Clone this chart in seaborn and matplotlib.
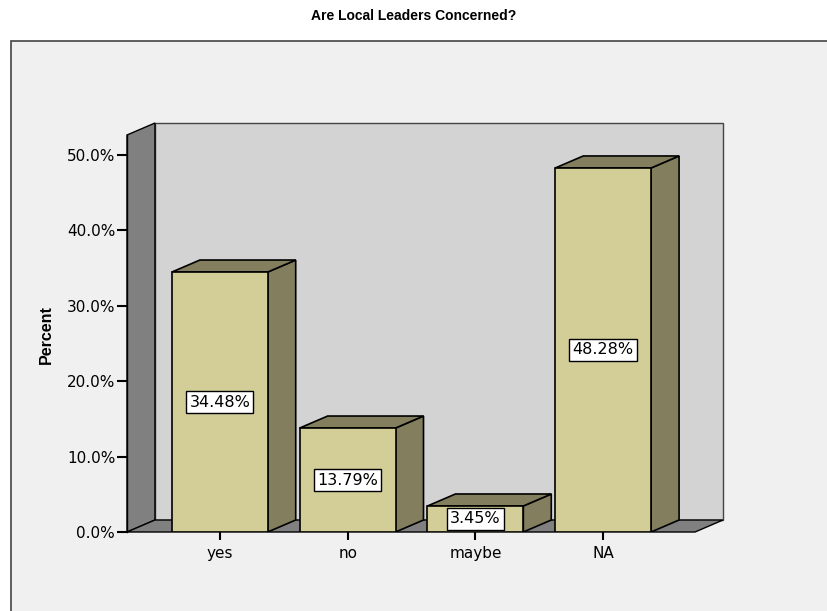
import matplotlib
matplotlib.use("Agg")
import matplotlib.pyplot as plt
from matplotlib.patches import Polygon, Rectangle
import seaborn as sns
import pandas as pd

categories = ["yes", "no", "maybe", "NA"]
percents = [34.48, 13.79, 3.45, 48.28]
labels = ["34.48%", "13.79%", "3.45%", "48.28%"]
yticks = [0, 10, 20, 30, 40, 50]
ytick_labels = ["0.0%", "10.0%", "20.0%", "30.0%", "40.0%", "50.0%"]

sns.set_theme(style="white")
plt.rcParams['font.family'] = ['Liberation Sans', 'DejaVu Sans']
plt.rcParams['text.color'] = 'black'

W, H = 827, 611
fig = plt.figure(figsize=(W / 100, H / 100), dpi=100)
fig.patch.set_facecolor("white")

# outer frame
frame = Rectangle((11 / W, -0.01), 1.0, (H - 41) / H + 0.01, transform=fig.transFigure,
                  facecolor="#f0f0f0", edgecolor="#444444", lw=1.2, zorder=-10)
fig.patches.append(frame)

# axes in pixel coordinates
left_px, right_px, bottom_px, top_px = 127, 723, 532, 123
ax = fig.add_axes([left_px / W, (H - bottom_px) / H, (right_px - left_px) / W, (bottom_px - top_px) / H])
ax.set_zorder(1)
ax.set_facecolor("none")
ax.patch.set_alpha(0)

px_per_unit_y = (532 - 155) / 50.0
px_per_cat = 128.0
xmin = -(220 - 127) / px_per_cat
dx = 28 / px_per_cat
dy = 12 / px_per_unit_y
xfront_max = 3 + (696 - 604) / px_per_cat
yfront_max = (532 - 135) / px_per_unit_y

wall_gray = "#808080"
back_gray = "#d3d3d3"
# back wall
ax.add_patch(Polygon([(xmin + dx, dy), (xfront_max + dx, dy), (xfront_max + dx, yfront_max + dy),
                      (xmin + dx, yfront_max + dy)], closed=True, facecolor=back_gray,
                     edgecolor="#444444", lw=1.0, zorder=1, clip_on=False))
# left wall
ax.add_patch(Polygon([(xmin, 0), (xmin, yfront_max), (xmin + dx, yfront_max + dy), (xmin + dx, dy)],
                     closed=True, facecolor=wall_gray, edgecolor="black", lw=1.0, zorder=1.5, clip_on=False))
# floor
ax.add_patch(Polygon([(xmin, 0), (xmin + dx, dy), (xfront_max + dx, dy), (xfront_max, 0)],
                     closed=True, facecolor=wall_gray, edgecolor="black", lw=1.0, zorder=1.5, clip_on=False))

front_col = "#d3ce98"
dark_col = "#827e5e"
df = pd.DataFrame({"cat": categories, "pct": percents})
sns.barplot(data=df, x="cat", y="pct", order=categories, color=front_col, saturation=1,
            width=0.75, edgecolor="black", linewidth=1.2, ax=ax, zorder=3)
ax.set_xlim(xmin, xfront_max + dx)
ax.set_ylim(0, yfront_max + dy)

bars = [p for p in ax.patches if isinstance(p, Rectangle)]
for p in bars:
    p.set_zorder(3)
    x0 = p.get_x(); w = p.get_width(); h = p.get_height()
    x1 = x0 + w
    side = Polygon([(x1, 0), (x1 + dx, dy), (x1 + dx, h + dy), (x1, h)], closed=True,
                   facecolor=dark_col, edgecolor="black", lw=1.2, zorder=2.8)
    top = Polygon([(x0, h), (x0 + dx, h + dy), (x1 + dx, h + dy), (x1, h)], closed=True,
                  facecolor=dark_col, edgecolor="black", lw=1.2, zorder=2.8)
    ax.add_patch(side)
    ax.add_patch(top)

for i, (v, lab) in enumerate(zip(percents, labels)):
    ax.text(i, v / 2, lab, ha="center", va="center", fontsize=11.5, color="black", zorder=5,
            family=["DejaVu Sans"],
            bbox=dict(boxstyle="square,pad=0.2", facecolor="white", edgecolor="black", lw=1.0))

for s in ["top", "right", "bottom"]:
    ax.spines[s].set_visible(False)
ax.spines["left"].set_visible(True)
ax.spines["left"].set_color("black")
ax.spines["left"].set_linewidth(1.0)
ax.spines["left"].set_bounds(0, yfront_max)
ax.spines["left"].set_zorder(4)

ax.set_yticks(yticks)
ax.set_yticklabels(ytick_labels)
ax.set_xticks(range(len(categories)))
ax.set_xticklabels(categories)
ax.tick_params(axis="y", direction="out", length=7, width=1.5, color="black",
               labelsize=11, labelcolor="black", left=True, pad=1.5)
ax.tick_params(axis="x", direction="out", length=6, width=1.5, color="black",
               labelsize=11, labelcolor="black", bottom=True, pad=4)
for t in ax.get_xticklabels() + ax.get_yticklabels():
    t.set_family(["DejaVu Sans"])
ax.set_xlabel("")
ax.set_ylabel("")
ax.grid(False)

fig.text(46 / W, 1 - 335 / H, "Percent", rotation=90, ha="center", va="center", fontsize=11.5,
         fontweight="bold", color="black",
         family=["Liberation Sans Narrow", "Liberation Sans", "DejaVu Sans"])
fig.text(414 / W, 1 - 16 / H, "Are Local Leaders Concerned?", ha="center", va="center",
         fontsize=10, fontweight="bold", color="black")

fig.savefig("out.png", dpi=100)
